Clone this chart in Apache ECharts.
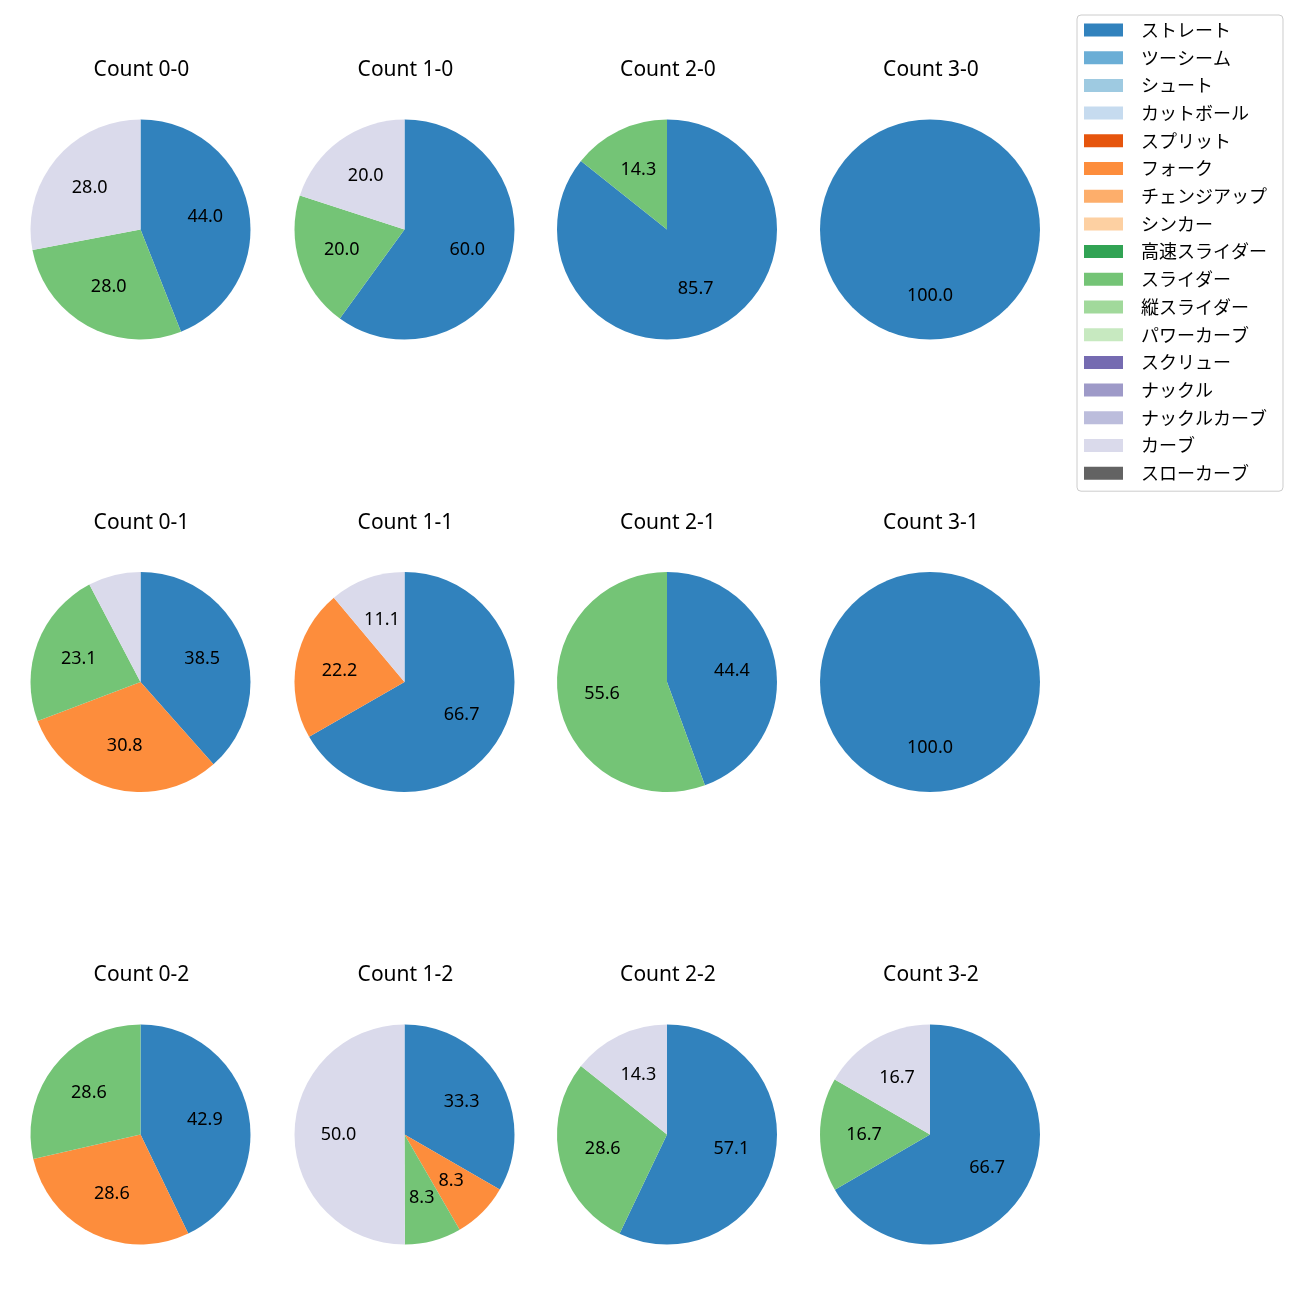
<!DOCTYPE html>
<html>
<head>
<meta charset="utf-8">
<script src="https://cdn.jsdelivr.net/npm/echarts@6/dist/echarts.min.js"></script>
<style>
html,body{margin:0;padding:0;background:#fff;}
#chart{width:1300px;height:1300px;}
</style>
</head>
<body>
<div id="chart"></div>
<script>
// Pitch types (legend order)
const pitchTypes = ['ストレート','ツーシーム','シュート','カットボール','スプリット','フォーク','チェンジアップ','シンカー','高速スライダー','スライダー','縦スライダー','パワーカーブ','スクリュー','ナックル','ナックルカーブ','カーブ','スローカーブ'];
const pitchColors = ['#3182bd','#6baed6','#9ecae1','#c6dbef','#e6550d','#fd8d3c','#fdae6b','#fdd0a2','#31a354','#74c476','#a1d99b','#c7e9c0','#756bb1','#9e9ac8','#bcbddc','#dadaeb','#636363'];

// Count titles (row by row)
const countTitles = ['Count 0-0','Count 1-0','Count 2-0','Count 3-0',
                     'Count 0-1','Count 1-1','Count 2-1','Count 3-1',
                     'Count 0-2','Count 1-2','Count 2-2','Count 3-2'];

// Percentages per count, in pitchTypes order
const c00 = [44.0,0,0,0,0,0,0,0,0,28.0,0,0,0,0,0,28.0,0];
const c10 = [60.0,0,0,0,0,0,0,0,0,20.0,0,0,0,0,0,20.0,0];
const c20 = [85.7,0,0,0,0,0,0,0,0,14.3,0,0,0,0,0,0,0];
const c30 = [100.0,0,0,0,0,0,0,0,0,0,0,0,0,0,0,0,0];
const c01 = [38.5,0,0,0,0,30.8,0,0,0,23.1,0,0,0,0,0,7.7,0];
const c11 = [66.7,0,0,0,0,22.2,0,0,0,0,0,0,0,0,0,11.1,0];
const c21 = [44.4,0,0,0,0,0,0,0,0,55.6,0,0,0,0,0,0,0];
const c31 = [100.0,0,0,0,0,0,0,0,0,0,0,0,0,0,0,0,0];
const c02 = [42.9,0,0,0,0,28.6,0,0,0,28.6,0,0,0,0,0,0,0];
const c12 = [33.3,0,0,0,0,8.3,0,0,0,8.3,0,0,0,0,0,50.0,0];
const c22 = [57.1,0,0,0,0,0,0,0,0,28.6,0,0,0,0,0,14.3,0];
const c32 = [66.7,0,0,0,0,0,0,0,0,16.7,0,0,0,0,0,16.7,0];
const countValues = [c00,c10,c20,c30,c01,c11,c21,c31,c02,c12,c22,c32];

const labelMin = 8; // labels hidden below this share

// layout
const colX = [140.5, 404.5, 667, 930];
const rowY = [229.5, 682, 1134.5];
const titleY = [70, 523, 975];
const R = 110;
const FONT = "'Noto Sans', 'Noto Sans CJK JP', sans-serif";
const FONT_JP = "'Noto Sans CJK JP', 'Noto Sans', sans-serif";

const titles = [];
const pieSeries = [];
const labelSeries = [];
countValues.forEach((vals, i) => {
  const col = i % 4, row = Math.floor(i / 4);
  titles.push({
    text: countTitles[i],
    left: colX[col] + 1, top: titleY[row],
    padding: 0,
    textAlign: 'center', textVerticalAlign: 'middle',
    textStyle: {fontFamily: FONT, fontSize: 21, fontWeight: 'normal', color: '#000'}
  });
  const data = pitchTypes.map((n, k) => ({name: n, value: vals[k], itemStyle: {color: pitchColors[k]}}));
  pieSeries.push({
    type: 'pie', center: [colX[col], rowY[row]], radius: [0, R],
    startAngle: 90, clockwise: true, avoidLabelOverlap: false,
    label: {show: false}, labelLine: {show: false},
    itemStyle: {borderWidth: 0},
    emphasis: {disabled: true},
    data: data
  });
  labelSeries.push({
    type: 'pie', center: [colX[col], rowY[row]], radius: [0, R * 1.145],
    startAngle: 90, clockwise: true, avoidLabelOverlap: false, silent: true,
    legendHoverLink: false,
    itemStyle: {color: 'rgba(0,0,0,0)', borderWidth: 0},
    labelLine: {show: false},
    emphasis: {disabled: true},
    label: {
      show: true, position: 'inside', color: '#000',
      fontFamily: FONT, fontSize: 18,
      formatter: p => (p.value >= labelMin ? p.value.toFixed(1) : '')
    },
    data: pitchTypes.map((n, k) => ({name: n, value: vals[k]}))
  });
});

const chart = echarts.init(document.getElementById('chart'), null, {renderer: 'canvas'});
chart.setOption({
  animation: false,
  backgroundColor: '#fff',
  title: titles,
  legend: {
    data: pitchTypes,
    orient: 'vertical',
    left: 1077, top: 15,
    padding: [6, 16, 9, 7],
    itemWidth: 39, itemHeight: 13, itemGap: 9.7,
    icon: 'rect',
    borderColor: '#cccccc', borderWidth: 1, borderRadius: 4,
    backgroundColor: '#fff',
    selectedMode: false,
    textStyle: {fontFamily: FONT_JP, fontSize: 18, lineHeight: 18, color: '#000', padding: [0, 0, 0, 13]}
  },
  series: pieSeries.concat(labelSeries)
});
</script>
</body>
</html>
